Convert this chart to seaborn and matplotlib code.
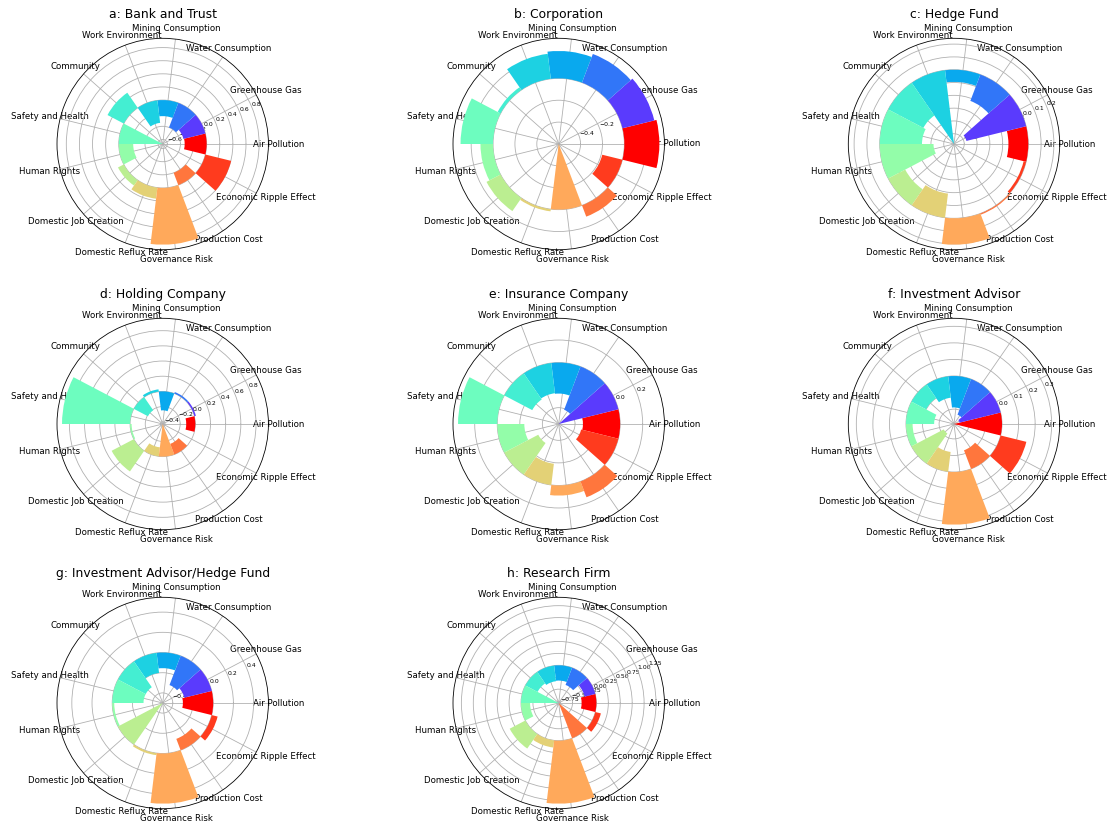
import numpy as np
import matplotlib
matplotlib.use("Agg")
import matplotlib.pyplot as plt
import seaborn as sns

categories = [
    "Air Pollution", "Greenhouse Gas", "Water Consumption", "Mining Consumption",
    "Work Environment", "Community", "Safety and Health", "Human Rights",
    "Domestic Job Creation", "Domestic Reflux Rate", "Governance Risk",
    "Production Cost", "Economic Ripple Effect",
]

titles = [
    "a: Bank and Trust", "b: Corporation", "c: Hedge Fund",
    "d: Holding Company", "e: Insurance Company", "f: Investment Advisor",
    "g: Investment Advisor/Hedge Fund", "h: Research Firm",
]

bank_and_trust = [-0.335, -0.345, -0.40, -0.245, -0.345, 0.28, -0.67,
                  -0.22, 0.10, 0.17, 0.865, -0.20, 0.405]
corporation = [0.32, 0.30, 0.28, 0.25, 0.23, 0.03, 0.297,
               0.115, 0.145, 0.02, -0.60, 0.11, -0.19]
hedge_fund = [-0.155, -0.48, -0.22, -0.095, -0.58, -0.31, -0.33,
              -0.42, -0.15, -0.19, 0.206, 0.01, -0.02]
holding_company = [-0.12, 0.02, 0.02, -0.25, 0.03, -0.21, 0.897,
                   -0.02, 0.33, -0.12, -0.43, -0.15, 0.0]
insurance_company = [-0.33, -0.545, -0.41, -0.275, -0.27, -0.28, 0.348,
                     -0.24, -0.34, -0.19, 0.09, 0.15, -0.34]
investment_advisor = [-0.29, -0.255, -0.23, -0.19, -0.13, -0.10, -0.17,
                      -0.04, -0.22, -0.12, 0.318, -0.12, 0.16]
advisor_hedge_fund = [-0.30, -0.28, -0.31, -0.155, -0.20, -0.31, -0.31,
                      -0.02, -0.50, 0.02, 0.497, -0.12, 0.06]
research_firm = [-0.31, -0.23, -0.385, -0.32, -0.33, -0.29, -0.79,
                 -0.19, 0.37, 0.15, 1.32, -0.78, 0.12]

series = [bank_and_trust, corporation, hedge_fund, holding_company,
          insurance_company, investment_advisor, advisor_hedge_fund,
          research_firm]

sns.set_theme(style="white", rc={
    "polaraxes.grid": True,
    "grid.color": "#b0b0b0",
    "grid.linewidth": 0.8,
    "axes.edgecolor": "black",
    "axes.linewidth": 0.8,
    "text.color": "black",
    "xtick.color": "black",
    "ytick.color": "black",
    "axes.labelcolor": "black",
    "xtick.major.size": 0,
    "xtick.major.pad": 3.2,
})
plt.rcParams["font.family"] = ["DejaVu Sans"]

n = len(categories)
theta = np.linspace(0, 2 * np.pi, n, endpoint=False)
width = 2 * np.pi / n

# rainbow sweep around the circle; the first sector takes the closing (red) end
rainbow = sns.color_palette("rainbow", as_cmap=True)
colors = [rainbow(1.0)] + [rainbow(i / n) for i in range(1, n)]

DPI = 74
W, H = 1114, 828
fig = plt.figure(figsize=(W / DPI, H / DPI), dpi=DPI)

col_x = [162.7, 558.7, 954.0]
row_y = [144.0, 424.0, 703.0]
R = 105.7

for k, (title, vals) in enumerate(zip(titles, series)):
    cx = col_x[k % 3]
    cy = row_y[k // 3]
    rect = [(cx - R) / W, 1 - (cy + R) / H, 2 * R / W, 2 * R / H]
    ax = fig.add_axes(rect, projection="polar")
    vals = np.asarray(vals)
    ax.bar(theta, vals, width=width, bottom=0.0, color=colors, linewidth=0)
    lo, hi = vals.min(), vals.max()
    ax.set_ylim(lo, hi + 0.05 * (hi - lo))
    ax.set_xticks(theta)
    ax.set_xticklabels(categories, fontsize=8.4)
    ax.tick_params(axis="y", labelsize=6)
    ax.set_title(title, fontsize=12)

fig.savefig("out.png", dpi=DPI)
